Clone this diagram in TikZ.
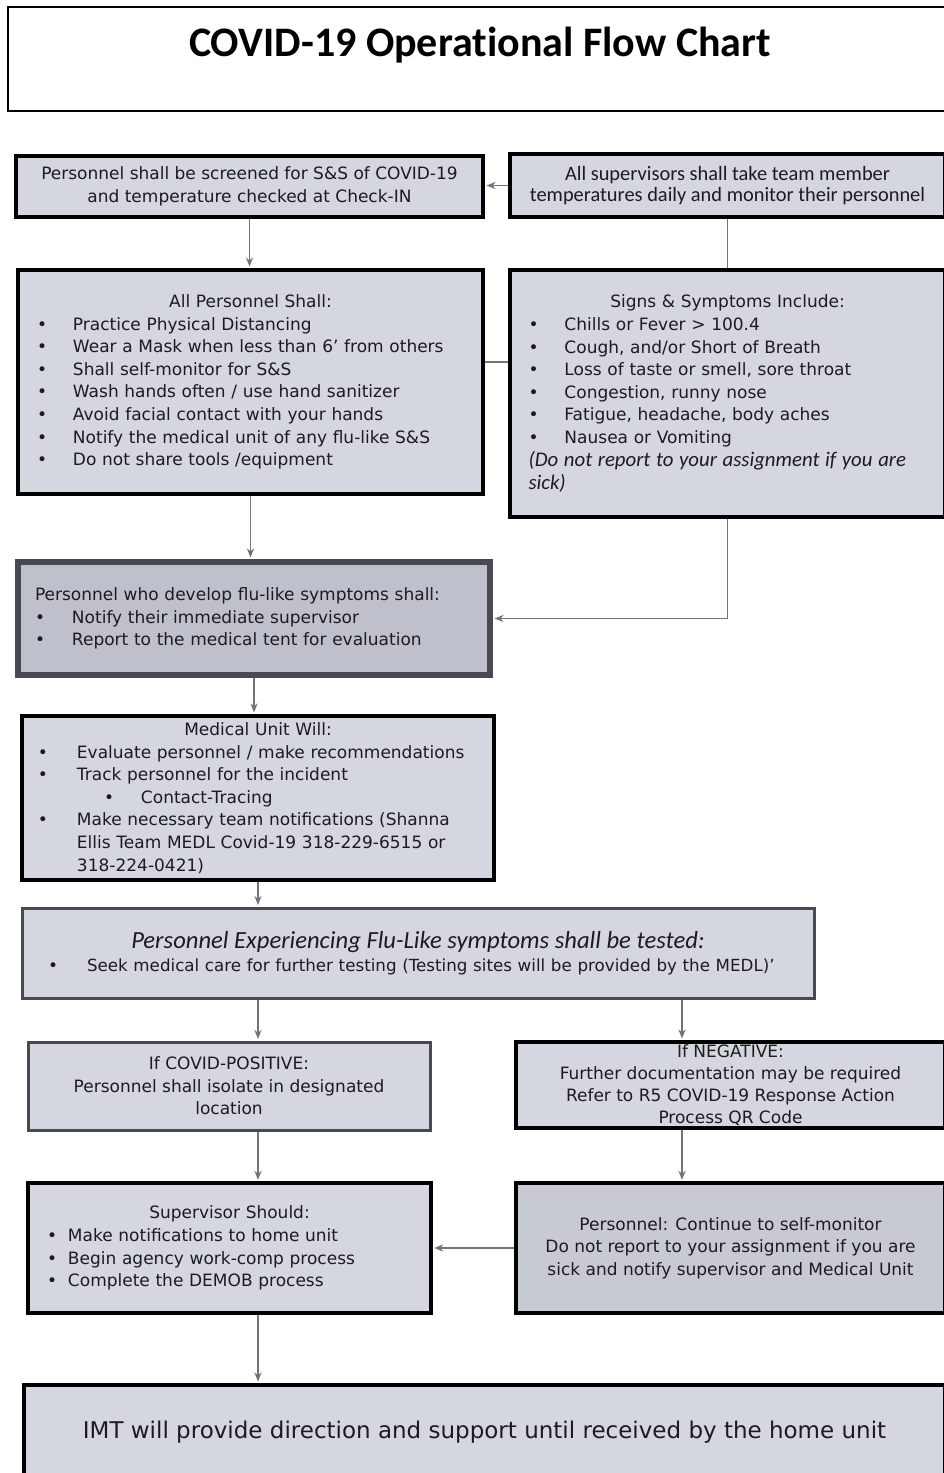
\documentclass[tikz,border=0pt]{standalone}
\usepackage{fontspec}
\setmainfont{DejaVu Sans}
\newfontfamily\calfont{Carlito}[Ligatures=CommonOff]
\usetikzlibrary{arrows.meta}

\definecolor{boxfill}{RGB}{212,214,224}
\definecolor{darkfill}{RGB}{190,193,204}
\definecolor{midfill}{RGB}{200,202,211}
\definecolor{borderdark}{RGB}{72,74,82}
\definecolor{conngray}{RGB}{115,115,120}
\definecolor{textdark}{RGB}{28,28,30}

\newcommand{\bul}[1][18pt]{\makebox[#1][l]{\textbullet}\ignorespaces}
\newcommand{\bodyfont}{\fontsize{8.5}{11.3}\selectfont}

\tikzset{
  box/.style={draw=black, line width=2pt, fill=boxfill, inner sep=0pt,
    text=textdark, font=\bodyfont},
  greybox/.style={box, draw=borderdark, line width=1.5pt},
  conn/.style={draw=conngray, line width=0.6pt, shorten >=0.8pt,
    -{Stealth[length=4.5pt,width=3.6pt]}},
  plainconn/.style={draw=conngray, line width=0.6pt},
}

\begin{document}
\begin{tikzpicture}[x=0.5pt, y=-0.5pt]
  \useasboundingbox[fill=white] (0,0) rectangle (943,1473);

  % heading
  \node[draw=black, line width=1pt, minimum width=476pt, minimum height=52pt] (frame) at (484,59) {};
  \node[text=black, font=\calfont\bfseries\fontsize{21}{25}\selectfont] (title) at (480,45) {COVID-19 Operational Flow Chart};

  % check-in row
  \node[box, minimum width=233.5pt, minimum height=30.5pt, align=center] (screen) at (249.5,186.5)
    {Personnel shall be screened for S\&S of COVID-19\\and temperature checked at Check-IN};
  \node[box, minimum width=217.5pt, minimum height=31.5pt, align=center,
    font=\calfont\fontsize{10.2}{10.2}\selectfont] (superv) at (727.5,185.5)
    {All supervisors shall take team member\\temperatures daily and monitor their personnel};

  % rules and symptoms
  \node[box, minimum width=232.5pt, minimum height=112pt, text width=213.5pt, align=left] (allpers) at (250.5,382)
    {{\centering All Personnel Shall:\par}
     \bul Practice Physical Distancing\\
     \bul Wear a Mask when less than 6’ from others\\
     \bul Shall self-monitor for S\&S\\
     \bul Wash hands often / use hand sanitizer\\
     \bul Avoid facial contact with your hands\\
     \bul Notify the medical unit of any flu-like S\&S\\
     \bul Do not share tools /equipment};
  \node[box, minimum width=217.5pt, minimum height=123.5pt, text width=199pt, align=left] (signs) at (727.5,393.5)
    {{\centering Signs \& Symptoms Include:\par}
     \bul Chills or Fever > 100.4\\
     \bul Cough, and/or Short of Breath\\
     \bul Loss of taste or smell, sore throat\\
     \bul Congestion, runny nose\\
     \bul Fatigue, headache, body aches\\
     \bul Nausea or Vomiting\\
     {\calfont\itshape\fontsize{10.4}{11.5}\selectfont (Do not report to your assignment if you are\\sick)}};

  % symptomatic personnel
  \node[box, draw=borderdark, line width=3pt, fill=darkfill, minimum width=236pt, minimum height=56.5pt,
    text width=219pt, align=left] (flusym) at (254,618.5)
    {Personnel who develop flu-like symptoms shall:\\
     \bul[18.5pt] Notify their immediate supervisor\\
     \bul[18.5pt] Report to the medical tent for evaluation};

  \node[box, minimum width=236pt, minimum height=82pt, text width=220pt, align=left] (medunit) at (258,798)
    {{\centering Medical Unit Will:\par}
     \bul[19.5pt] Evaluate personnel / make recommendations\\
     \bul[19.5pt] Track personnel for the incident\\
     \hspace*{33pt}\bul[18.5pt] Contact-Tracing\\
     \bul[19.5pt] Make necessary team notifications (Shanna\\
     \hspace*{19.5pt}Ellis Team MEDL Covid-19 318-229-6515 or\\
     \hspace*{19.5pt}318-224-0421)};

  \node[greybox, minimum width=396pt, minimum height=45pt, text width=370pt, align=left] (tested) at (418,953)
    {{\centering\calfont\itshape\fontsize{12.3}{14}\selectfont Personnel Experiencing Flu-Like symptoms shall be tested:\par}
     \bul[19.5pt] {\fontsize{8.35}{11.3}\selectfont Seek medical care for further testing (Testing sites will be provided by the MEDL)'}};

  % test results
  \node[greybox, minimum width=201pt, minimum height=44pt, align=center] (positive) at (229,1086)
    {If COVID-POSITIVE:\\Personnel shall isolate in designated\\location};
  \node[box, minimum width=214.5pt, minimum height=43pt, align=center,
    font=\fontsize{8.5}{11.1}\selectfont] (negative) at (730.5,1085)
    {If NEGATIVE:\\Further documentation may be required\\Refer to R5 COVID-19 Response Action\\Process QR Code};

  \node[box, line width=1.6pt, minimum width=201.5pt, minimum height=65pt, text width=182.5pt, align=left] (supshould) at (229.5,1248)
    {{\centering Supervisor Should:\par}
     \bul[10.5pt] Make notifications to home unit\\
     \bul[10.5pt] Begin agency work-comp process\\
     \bul[10.5pt] Complete the DEMOB process};
  \node[box, line width=1.6pt, fill=midfill, minimum width=214.5pt, minimum height=65pt, align=center] (selfmon) at (730.5,1248)
    {Personnel: Continue to self-monitor\\Do not report to your assignment if you are\\sick and notify supervisor and Medical Unit};

  \node[box, minimum width=460.5pt, minimum height=47pt, font=\fontsize{11.5}{14}\selectfont] (imt) at (484.5,1432)
    {IMT will provide direction and support until received by the home unit};

  % connectors
  \coordinate (colL) at (258,0);
  \coordinate (colR) at (682,0);
  \draw[conn] (superv.west) -- (superv.west -| screen.east);
  \draw[conn] (screen.south) -- (screen.south |- allpers.north);
  \draw[plainconn] (superv.south) -- (superv.south |- signs.north);
  \draw[plainconn] ([yshift=10pt]allpers.east) -- ([yshift=10pt]allpers.east -| signs.west);
  \draw[conn] (allpers.south) -- (allpers.south |- flusym.north);
  \draw[conn] (signs.south) |- (flusym.east);
  \draw[conn] (flusym.south) -- (flusym.south |- medunit.north);
  \draw[conn] (medunit.south) -- (medunit.south |- tested.north);
  \draw[conn] (tested.south -| colL) -- (positive.north -| colL);
  \draw[conn] (tested.south -| colR) -- (negative.north -| colR);
  \draw[conn] (positive.south -| colL) -- (supshould.north -| colL);
  \draw[conn] (negative.south -| colR) -- (selfmon.north -| colR);
  \draw[conn] (selfmon.west) -- (supshould.east);
  \draw[conn] (supshould.south -| colL) -- (imt.north -| colL);
\end{tikzpicture}
\end{document}
